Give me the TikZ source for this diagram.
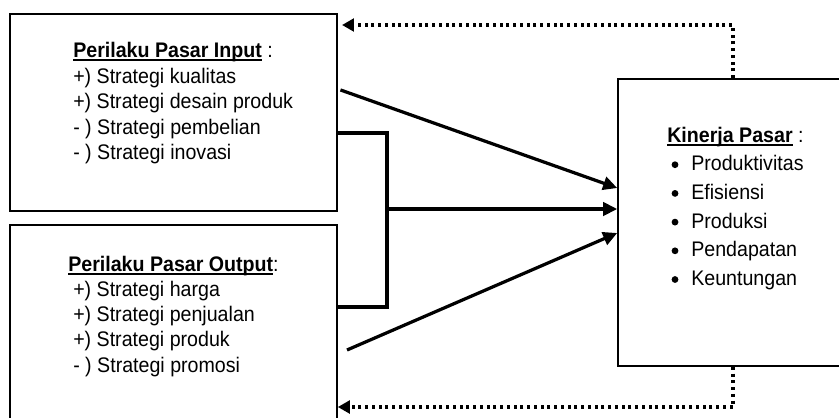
\documentclass[tikz,border=0pt]{standalone}
\usepackage{fontspec}
\setmainfont{Liberation Sans}[FakeStretch=0.93]
\usetikzlibrary{arrows.meta,calc}
\newcommand\ulin[1]{\setbox0\hbox{#1}\rlap{\rule[-2.6pt]{\wd0}{1.1pt}}\box0\relax}

\begin{document}
\begin{tikzpicture}[x=0.025cm, y=-0.025cm,
    box/.style={draw, line width=1.1pt, rectangle, inner sep=0pt},
    txt/.style={anchor=base west, inner sep=0pt, font=\fontsize{15pt}{18pt}\selectfont},
    dotb/.style={circle, fill, inner sep=0pt, minimum size=0.17cm},
    arr/.style={line width=2.3pt, -{Triangle[length=10pt, width=9.5pt]}},
    fbline/.style={line width=2.2pt, dash pattern=on 2.2pt off 2.6pt, -{Triangle[length=8.5pt, width=9pt]}}]
  \useasboundingbox (0,0) rectangle (839,417);
  \clip (0,0) rectangle (839,417);

  % Boxes
  \node[box, minimum width=8.175cm, minimum height=4.925cm] (inp) at (173.5,112.5) {};
  \node[box, minimum width=8.175cm, minimum height=5.125cm] (out) at (173.5,327.5) {};
  \node[box, minimum width=6.05cm, minimum height=7.175cm] (kin) at (739,222.5) {};

  % Perilaku Pasar Input
  \node[txt] (inpt) at (73,57) {\ulin{\textbf{Perilaku Pasar Input}} :};
  \foreach \t [count=\i] in {+) Strategi kualitas, +) Strategi desain produk, - ) Strategi pembelian, - ) Strategi inovasi}
  {
    \node[txt] (inp\i) at (73,{57.5+25.5*\i}) {\t};
  }

  % Perilaku Pasar Output
  \node[txt] (outt) at (68,271) {\ulin{\textbf{Perilaku Pasar Output}}:};
  \foreach \t [count=\i] in {+) Strategi harga, +) Strategi penjualan, +) Strategi produk, - ) Strategi promosi}
  {
    \node[txt] (out\i) at (73,{271+25.3*\i}) {\t};
  }

  % Kinerja Pasar
  \node[txt] (kint) at (667,142) {\ulin{\textbf{Kinerja Pasar}} :};
  \foreach \t [count=\i] in {Produktivitas, Efisiensi, Produksi, Pendapatan, Keuntungan}
  {
    \node[dotb] (kinb\i) at (675,{136+28.7*\i}) {};
    \node[txt] (kin\i) at (691,{142+28.7*\i}) {\t};
  }

  % Arrows to Kinerja Pasar
  \coordinate (jn) at (387,209);
  \coordinate (lo) at (347,350);
  \draw[arr, shorten <=2pt] (inp.east |- 0,89) -- (kin.west |- 0,188);
  \draw[line width=2.3pt] (inp.east |- 0,133) -| (jn) |- (out.east |- 0,307);
  \draw[arr] (jn) -- (kin.west |- jn);
  \draw[arr] (lo) -- (kin.west |- 0,233);

  % Feedback (dotted)
  \coordinate (fbt) at (342,25);
  \draw[fbline] (733,0 |- kin.north) |- (fbt);
  \draw[fbline] (733,0 |- kin.south) |- (out.east |- 0,407);
\end{tikzpicture}
\end{document}
